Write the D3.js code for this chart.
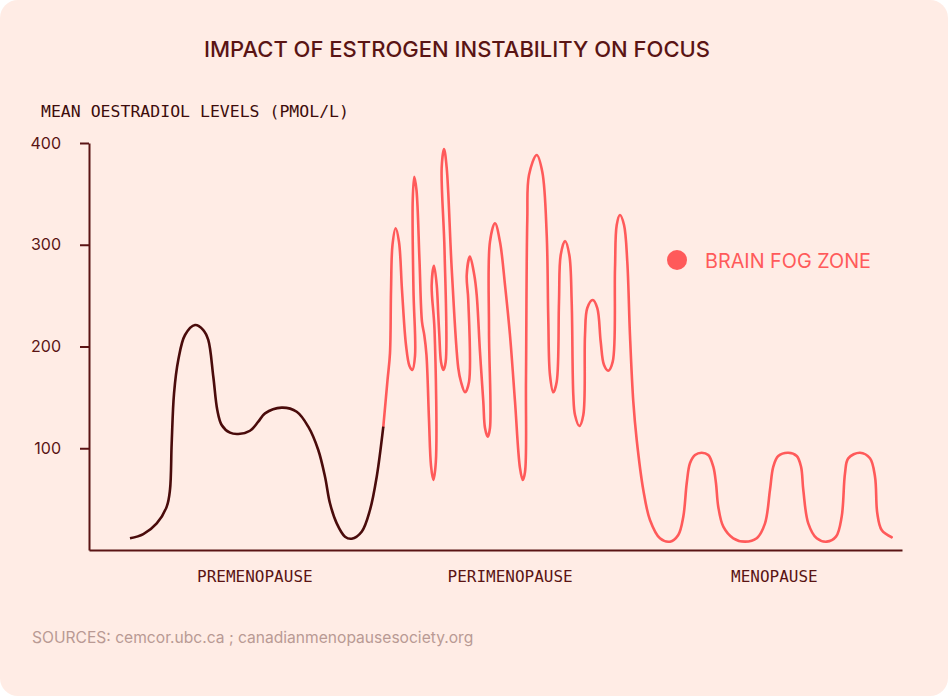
<!DOCTYPE html>
<html>
<head>
<meta charset="utf-8">
<script src="https://cdn.jsdelivr.net/npm/d3@7"></script>
<style>
    html, body { margin: 0; padding: 0; background: #ffffff; }
    svg { display: block; }
</style>
</head>
<body>
<div id="chart"></div>
<script>
// Phase names along the bottom and where they sit on the time index
var phases = ['PREMENOPAUSE', 'PERIMENOPAUSE', 'MENOPAUSE'];
var phaseMid = [20.4, 51.8, 84.3];

// Y ticks (pmol/L)
var levelTicks = [100, 200, 300, 400];

// Premenopause curve (time index 0-100, oestradiol pmol/L)
var preTime = [5.04, 6.68, 8.33, 9.56, 9.96, 10.17, 10.46, 10.98, 11.81, 13.04, 14.06, 14.67, 15.29, 15.78, 16.32,
    17.34, 18.36, 19.80, 20.82, 21.65, 23.70, 25.55, 26.97, 28.20, 29.03, 29.64, 30.47, 31.49, 32.31, 33.54,
    34.56, 35.39, 36.20];
var preLevel = [11.5, 15.7, 26.2, 42.6, 59.0, 104.9, 154.0, 186.7, 211.3, 221.1, 216.2, 206.4, 170.3, 137.6, 122.9,
    115.3, 114.0, 117.2, 126.1, 134.3, 139.9, 135.9, 121.2, 98.3, 72.0, 45.9, 26.2, 13.1, 11.1, 18.0,
    39.3, 72.0, 121.2];

// Brain fog zone curve: perimenopause swings...
var fogTime = [36.20, 36.72, 37.02, 37.15, 37.33, 37.72, 38.13, 38.50, 38.99, 39.42, 39.77, 40.10, 39.91, 39.82, 40.01,
    40.28, 40.65, 40.96, 41.24, 41.51, 41.82, 42.07, 42.35, 42.66, 42.50, 42.15, 42.44, 42.77, 42.96, 43.09,
    43.30, 43.58, 43.87, 43.73, 43.38, 43.67, 44.00, 44.61, 45.42, 45.76, 46.25, 46.74, 46.65, 46.46, 46.86,
    47.39, 47.69, 48.09, 48.50, 48.71, 49.04, 49.32, 49.20, 49.32, 49.94, 50.55, 51.17, 51.78, 52.40, 53.01,
    53.35, 53.63, 53.75, 53.91, 54.12, 55.07, 55.76, 56.30, 56.49, 56.70, 57.11, 57.53, 57.81, 58.02, 58.55,
    59.08, 59.37, 59.57, 59.78, 60.31, 60.80, 61.01, 61.29, 61.96, 62.52, 62.94, 63.35, 63.87, 64.42, 64.70,
    64.91, 65.31, 65.81, 66.21, 66.54, 66.95];
var fogLevel = [121.2, 167.1, 193.3, 255.5, 299.8, 316.2, 302.7, 255.5, 201.5, 180.8, 176.9, 190.7, 255.5, 344.0, 366.9,
    353.8, 285.0, 224.1, 211.3, 191.6, 127.8, 82.6, 68.8, 86.5, 216.2, 260.4, 279.4, 260.4, 231.0, 211.3,
    184.8, 176.9, 184.8, 294.8, 375.4, 394.1, 375.4, 277.1, 178.9, 165.1, 155.0, 165.1, 245.7, 270.3, 288.3,
    270.3, 250.6, 194.9, 145.8, 119.9, 111.4, 119.9, 216.2, 303.0, 321.1, 303.0, 260.4, 211.3, 145.8, 80.6,
    68.8, 76.7, 167.1, 324.3, 368.6, 388.2, 371.5, 309.6, 228.0, 172.0, 155.0, 165.4, 244.0, 289.9, 303.7,
    289.9, 244.0, 152.3, 132.7, 121.9, 132.7, 211.3, 237.8, 245.7, 237.8, 204.7, 181.8, 176.2, 185.1, 276.9,
    319.4, 329.2, 319.4, 283.3, 211.3, 145.8];

// ...then the drop into menopause
var menoTime = [67.37, 68.18, 69.00, 70.23, 71.46, 72.48, 73.10, 73.52, 73.92, 74.54, 75.36, 76.17, 76.79, 77.12, 77.40,
    78.02, 79.25, 80.69, 82.13, 83.15, 83.76, 84.17, 84.78, 86.01, 87.05, 87.58, 87.86, 88.47, 89.51, 90.74,
    91.88, 92.58, 92.99, 93.39, 94.83, 96.06, 96.68, 96.96, 97.50, 98.73];
var menoLevel = [108.1, 59.0, 29.5, 11.5, 8.2, 14.7, 32.7, 65.6, 85.2, 93.4, 95.6, 93.4, 81.9, 65.6, 42.6,
    22.9, 11.5, 8.2, 11.5, 26.2, 59.0, 81.9, 92.4, 95.6, 92.4, 81.9, 59.0, 26.2, 11.5, 8.2,
    13.1, 32.7, 75.4, 90.1, 95.6, 90.1, 72.0, 36.1, 19.7, 12.5];

var W = 948, H = 698;
var darkRed = '#5a1414';
var lineDark = '#4a0b0b';
var fogRed = '#ff5a5a';

var svg = d3.select('#chart')
    .append('svg')
    .attr('width', W)
    .attr('height', H);

// peach card
svg.append('rect')
    .attr('x', 0).attr('y', 0)
    .attr('width', W).attr('height', 696)
    .attr('rx', 18)
    .style('fill', '#ffece5');

var x = d3.scaleLinear().domain([0, 100]).range([89, 902]);
var y = d3.scaleLinear().domain([0, 400]).range([550, 143]);

// title
svg.append('text')
    .attr('x', 457)
    .attr('y', 57)
    .attr('text-anchor', 'middle')
    .style('font-family', 'Inter, Roboto, sans-serif')
    .style('font-weight', 500)
    .style('font-size', '22px')
    .style('fill', darkRed)
    .text('IMPACT OF ESTROGEN INSTABILITY ON FOCUS');

// y label
svg.append('text')
    .attr('x', 41)
    .attr('y', 117)
    .style('font-family', '"DejaVu Sans Mono", monospace')
    .style('font-size', '16.5px')
    .style('fill', '#3d0c0c')
    .text('MEAN OESTRADIOL LEVELS (PMOL/L)');

// axes
var yAxis = svg.append('g')
    .attr('transform', 'translate(' + x(0) + ',0)')
    .call(d3.axisLeft(y).tickValues(levelTicks).tickSize(9).tickSizeOuter(0).tickPadding(19));
yAxis.selectAll('path, line').style('stroke', darkRed).style('stroke-width', 2);
yAxis.selectAll('text')
    .style('font-family', 'Inter, sans-serif')
    .style('font-size', '16px')
    .style('fill', darkRed);

var xAxis = svg.append('g')
    .attr('transform', 'translate(0,' + y(0) + ')')
    .call(d3.axisBottom(x).tickValues([]).tickSizeOuter(0));
xAxis.select('path').style('stroke', darkRed).style('stroke-width', 2);

// phase labels
svg.selectAll('.phase')
    .data(phases)
    .enter().append('text')
    .attr('class', 'phase')
    .attr('x', function(d, i) { return x(phaseMid[i]); })
    .attr('y', 582)
    .attr('text-anchor', 'middle')
    .style('font-family', '"DejaVu Sans Mono", monospace')
    .style('font-size', '16px')
    .style('fill', darkRed)
    .text(function(d) { return d; });

// curves
var line = d3.line()
    .x(function(d) { return x(d[0]); })
    .y(function(d) { return y(d[1]); })
    .curve(d3.curveCatmullRom.alpha(0.5));

var preData = preTime.map(function(t, i) { return [t, preLevel[i]]; });
var fogData = fogTime.map(function(t, i) { return [t, fogLevel[i]]; })
    .concat(menoTime.map(function(t, i) { return [t, menoLevel[i]]; }));

svg.append('path')
    .datum(fogData)
    .attr('d', line)
    .style('fill', 'none')
    .style('stroke', fogRed)
    .style('stroke-width', 2.6)
    .style('stroke-linecap', 'round')
    .style('stroke-linejoin', 'round');

svg.append('path')
    .datum(preData)
    .attr('d', line)
    .style('fill', 'none')
    .style('stroke', lineDark)
    .style('stroke-width', 2.6)
    .style('stroke-linecap', 'butt');

// legend
svg.append('circle')
    .attr('cx', 677)
    .attr('cy', 260)
    .attr('r', 10)
    .style('fill', fogRed);

svg.append('text')
    .attr('x', 705)
    .attr('y', 267.5)
    .style('font-family', 'Inter, sans-serif')
    .style('font-size', '19.8px')
    .style('fill', fogRed)
    .text('BRAIN FOG ZONE');

// sources
svg.append('text')
    .attr('x', 32)
    .attr('y', 643)
    .style('font-family', 'Inter, sans-serif')
    .style('font-size', '15.6px')
    .style('fill', '#b99a94')
    .text('SOURCES: cemcor.ubc.ca ; canadianmenopausesociety.org');
</script>
</body>
</html>
